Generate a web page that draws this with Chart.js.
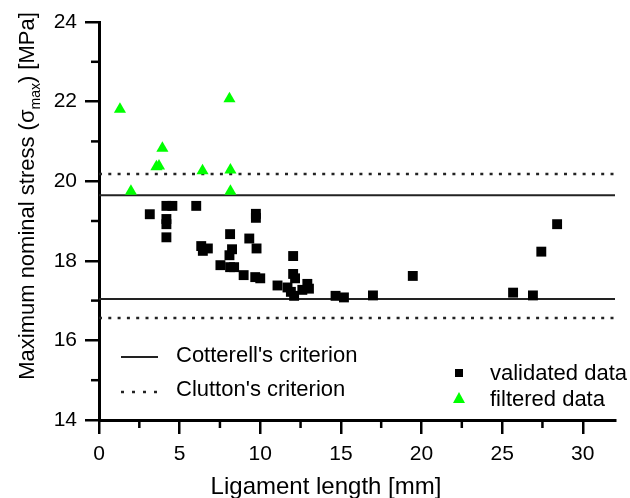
<!DOCTYPE html>
<html>
<head>
<meta charset="utf-8">
<script src="https://cdn.jsdelivr.net/npm/chart.js@4"></script>
<style>
  html, body { margin: 0; padding: 0; background: #fff; }
  #wrap { width: 630px; height: 498px; }
</style>
</head>
<body>
<div id="wrap"><canvas id="chart" width="630" height="498"></canvas></div>
<script>
// values
const validatedX = [3.15, 4.18, 4.55, 6.03, 4.18, 4.18, 4.18, 9.73, 9.73, 6.34, 6.44, 6.75, 8.13, 9.32, 9.77,
    8.25, 8.09, 7.53, 8.13, 8.38, 8.97, 9.69, 10.0, 11.07, 12.04, 12.04, 12.16, 11.69, 11.9, 12.1,
    12.61, 12.92, 13.02, 14.67, 15.19, 16.99, 19.46, 25.68, 26.91, 27.43, 28.41];
const validatedY = [19.17, 19.38, 19.38, 19.38, 19.05, 18.92, 18.59, 19.18, 19.08, 18.37, 18.25, 18.31, 18.67, 18.56, 18.31,
    18.29, 18.14, 17.89, 17.84, 17.84, 17.64, 17.59, 17.56, 17.38, 18.12, 17.67, 17.56, 17.33, 17.22, 17.12,
    17.27, 17.42, 17.3, 17.12, 17.08, 17.13, 17.62, 17.2, 17.13, 18.23, 18.92];
const filteredX = [1.30, 8.09, 3.93, 3.56, 3.72, 6.42, 8.15, 1.98, 8.15];
const filteredY = [21.81, 22.07, 20.83, 20.36, 20.38, 20.26, 20.28, 19.75, 19.75];
const cotterell = [17.04, 19.65];   // solid limits
const clutton = [16.56, 20.18];     // dotted limits
const xTicks = [0, 5, 10, 15, 20, 25, 30];
const yTicks = [14, 16, 18, 20, 22, 24];
const xRange = [0, 32];
const yRange = [14, 24];

const FONT = "'Liberation Sans', Arial, sans-serif";
const GREEN = '#00ff00';

function pts(xs, ys) {
    return xs.map((x, i) => ({ x: x, y: ys[i] }));
}
function hline(v) {
    return [{ x: xRange[0], y: v }, { x: xRange[1], y: v }];
}

const datasets = [
    { label: 'validated data', data: pts(validatedX, validatedY), pointStyle: 'rect', pointRadius: 7,
      backgroundColor: '#000', borderColor: '#000', borderWidth: 0 },
    { label: 'filtered data', data: pts(filteredX, filteredY), pointStyle: 'triangle', pointRadius: 7,
      backgroundColor: GREEN, borderColor: GREEN, borderWidth: 0 }
];
cotterell.forEach(v => datasets.push({ type: 'line', label: "Cotterell's criterion", data: hline(v),
    borderColor: '#222', borderWidth: 2, pointRadius: 0, showLine: true }));
clutton.forEach(v => datasets.push({ type: 'line', label: "Clutton's criterion", data: hline(v),
    borderColor: '#222', borderWidth: 2.5, borderDash: [3, 6.3], pointRadius: 0, showLine: true }));

// minor ticks, axis titles and legend
const extras = {
    id: 'extras',
    afterDraw(chart) {
        const { ctx, scales: { x, y } } = chart;
        ctx.save();
        ctx.strokeStyle = '#000';
        ctx.lineWidth = 2.5;
        for (let i = 0; i < xTicks.length - 1; i++) {
            const px = x.getPixelForValue((xTicks[i] + xTicks[i + 1]) / 2);
            ctx.beginPath(); ctx.moveTo(px, y.bottom); ctx.lineTo(px, y.bottom + 8); ctx.stroke();
        }
        for (let i = 0; i < yTicks.length - 1; i++) {
            const py = y.getPixelForValue((yTicks[i] + yTicks[i + 1]) / 2);
            ctx.beginPath(); ctx.moveTo(x.left, py); ctx.lineTo(x.left - 8, py); ctx.stroke();
        }

        ctx.fillStyle = '#000';
        // x title
        ctx.font = '24px ' + FONT;
        ctx.textAlign = 'center';
        ctx.textBaseline = 'alphabetic';
        ctx.fillText('Ligament length [mm]', 326, 494);

        // y title with subscript
        const a = 'Maximum nominal stress (\u03c3', sub = 'max', b = ') [MPa]';
        ctx.font = '22px ' + FONT;
        const wa = ctx.measureText(a).width, wb = ctx.measureText(b).width;
        ctx.font = '14px ' + FONT;
        const ws = ctx.measureText(sub).width;
        const total = wa + ws + wb;
        ctx.translate(34, 196);
        ctx.rotate(-Math.PI / 2);
        ctx.textAlign = 'left';
        ctx.font = '22px ' + FONT;
        ctx.fillText(a, -total / 2, 0);
        ctx.font = '14px ' + FONT;
        ctx.fillText(sub, -total / 2 + wa, 6);
        ctx.font = '22px ' + FONT;
        ctx.fillText(b, -total / 2 + wa + ws, 0);
        ctx.setTransform(1, 0, 0, 1, 0, 0);

        // legend
        ctx.font = '22px ' + FONT;
        ctx.textAlign = 'left';
        ctx.strokeStyle = '#222';
        ctx.lineWidth = 2;
        ctx.beginPath(); ctx.moveTo(121, 357); ctx.lineTo(158, 357); ctx.stroke();
        ctx.lineWidth = 2.5;
        ctx.setLineDash([3, 8]);
        ctx.beginPath(); ctx.moveTo(121, 392); ctx.lineTo(160, 392); ctx.stroke();
        ctx.setLineDash([]);
        ctx.fillText("Cotterell's criterion", 176, 362);
        ctx.fillText("Clutton's criterion", 176, 396);

        ctx.fillRect(455, 369, 8, 8);
        ctx.fillStyle = GREEN;
        ctx.beginPath(); ctx.moveTo(459, 392); ctx.lineTo(465, 403); ctx.lineTo(453, 403); ctx.closePath(); ctx.fill();
        ctx.fillStyle = '#000';
        ctx.fillText('validated data', 490, 380);
        ctx.fillText('filtered data', 490, 406);
        ctx.restore();
    }
};

const axisGrid = { drawOnChartArea: false, drawTicks: true, tickLength: 14, color: '#000', lineWidth: 2.5 };

new Chart(document.getElementById('chart'), {
    type: 'scatter',
    data: { datasets: datasets },
    options: {
        responsive: false,
        animation: false,
        layout: { padding: { top: 22, right: 15, left: 0, bottom: 0 } },
        plugins: { legend: { display: false }, tooltip: { enabled: false } },
        scales: {
            x: {
                type: 'linear', min: xRange[0], max: xRange[1],
                afterBuildTicks: s => { s.ticks = xTicks.map(v => ({ value: v })); },
                afterFit: s => { s.height = 78; },
                ticks: { color: '#000', font: { size: 21, family: FONT }, padding: 8, maxRotation: 0 },
                grid: axisGrid,
                border: { display: true, color: '#000', width: 3 }
            },
            y: {
                type: 'linear', min: yRange[0], max: yRange[1],
                afterBuildTicks: s => { s.ticks = yTicks.map(v => ({ value: v })); },
                afterFit: s => { s.width = 99; },
                ticks: { color: '#000', font: { size: 21, family: FONT }, padding: 8 },
                grid: axisGrid,
                border: { display: true, color: '#000', width: 3 }
            }
        }
    },
    plugins: [extras]
});
</script>
</body>
</html>
